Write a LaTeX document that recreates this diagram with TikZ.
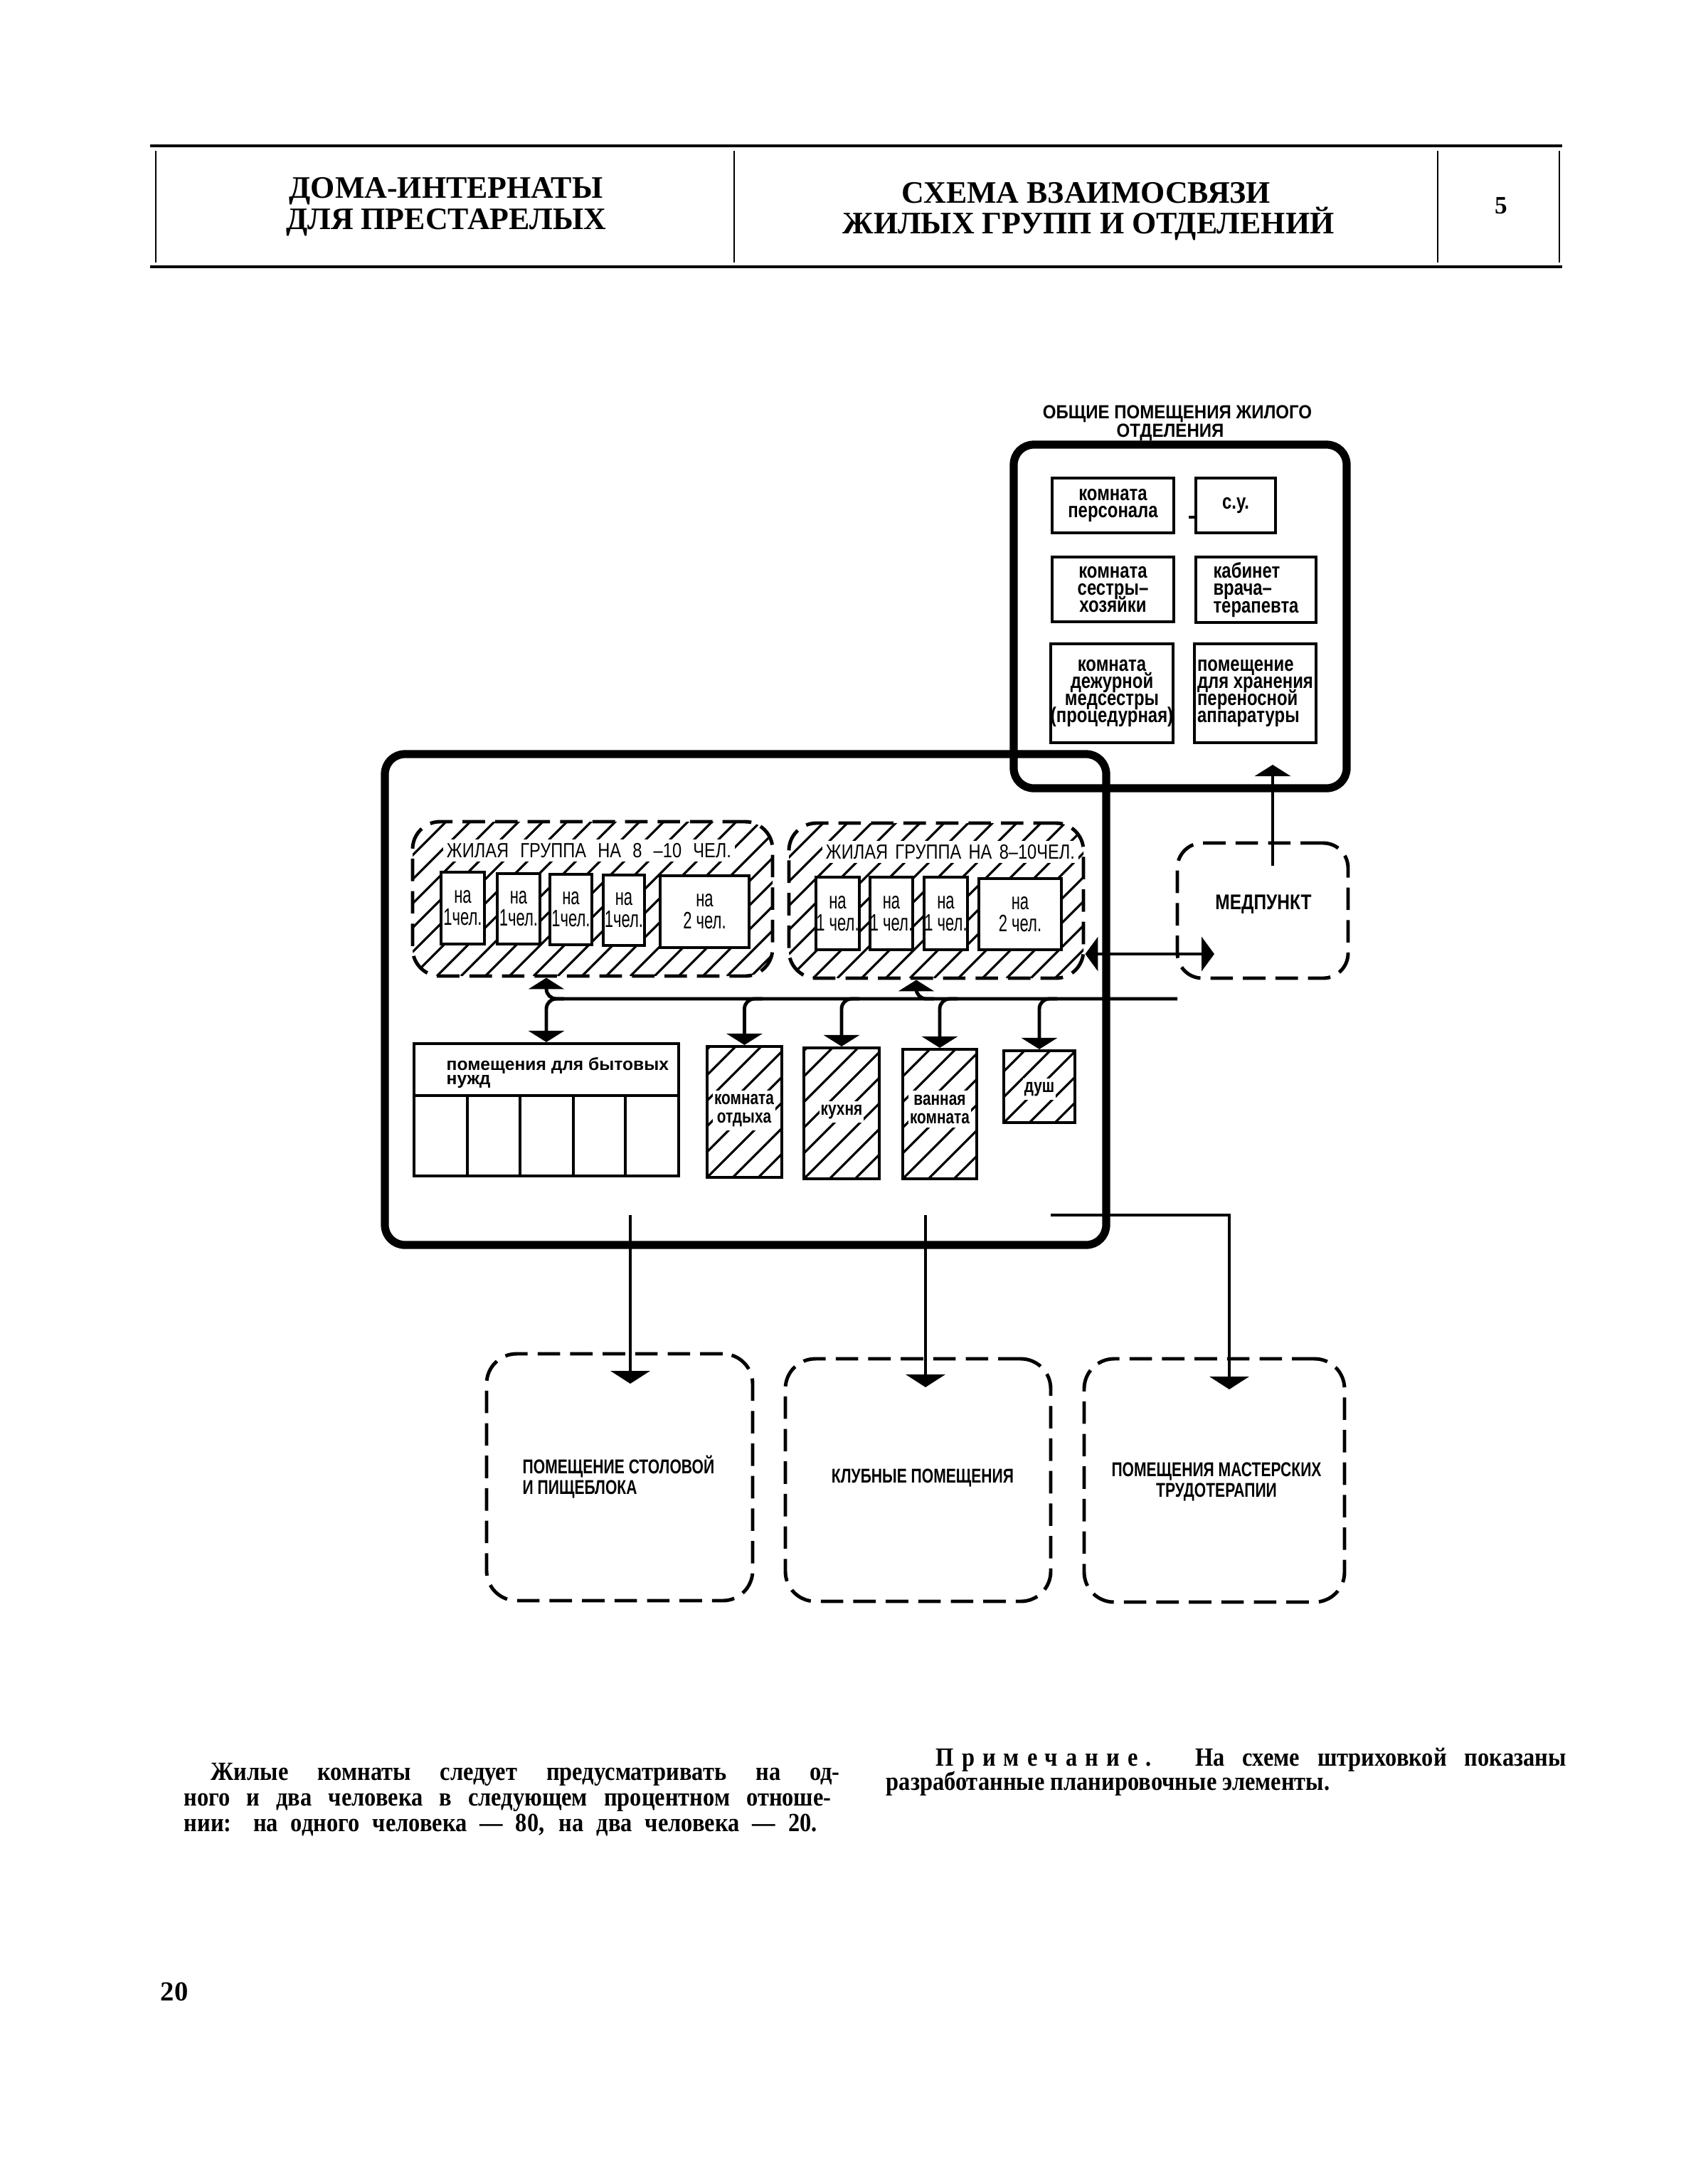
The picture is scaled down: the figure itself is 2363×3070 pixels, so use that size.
\documentclass[tikz,border=0pt]{standalone}
\usepackage{fontspec}
\setmainfont{Liberation Serif}
\setsansfont{Liberation Sans}
\usetikzlibrary{arrows.meta,fit,calc}
\tikzset{
  hdrtext/.style={inner sep=0, font={\fontsize{12.5}{14}\selectfont\bfseries}},
  heavybox/.style={draw, line width=3.2pt, rounded corners=8pt, inner sep=0},
  cellbox/.style={draw, line width=1.2pt, inner sep=0},
  roombox/.style={draw, line width=1pt, fill=white, inner sep=0},
  dashbox/.style={draw, line width=1.4pt, dash pattern=on 9pt off 4pt, inner sep=0},
  hatch/.style={path picture={\foreach \i in {-24,...,24}{\draw[line width=0.9pt, solid] ([xshift=\i*#1]path picture bounding box.south west) -- ++(70mm,70mm);}}},
  conn/.style={line width=1.4pt},
  tipA/.tip={Triangle[width=5mm,length=1.6mm]},
  tipB/.tip={Triangle[width=4.8mm,length=1.8mm]},
  tipC/.tip={Triangle[width=5.5mm,length=1.8mm]},
  arr/.style={conn, -tipA},
  arrB/.style={conn, -tipC},
  ttl/.style={inner sep=0, font={\sffamily\bfseries\fontsize{7.6}{8}\selectfont\addfontfeature{FakeStretch=0.9}}},
  obtext/.style={inner sep=0, align=center, font={\sffamily\bfseries\fontsize{8.5}{6.9}\selectfont\addfontfeature{FakeStretch=0.8}\lineskiplimit=-20pt\relax}},
  rtext/.style={inner sep=0, align=center, font={\sffamily\fontsize{9.5}{8.8}\selectfont\addfontfeature{FakeStretch=0.66}\lineskiplimit=-20pt\relax}},
  gtitle/.style={inner sep=1.5pt, fill=white, font={\sffamily\fontsize{8.2}{9}\selectfont\addfontfeature{FakeStretch=0.82}}},
  ptext/.style={inner sep=0, font={\sffamily\bfseries\fontsize{7}{5.7}\selectfont\lineskiplimit=-20pt\relax}},
  htext/.style={inner xsep=0.5pt, inner ysep=1.5pt, fill=white, align=center, font={\sffamily\bfseries\fontsize{7.6}{7.4}\selectfont\addfontfeature{FakeStretch=0.78}}},
  mtext/.style={inner sep=0, font={\sffamily\bfseries\fontsize{8.5}{9}\selectfont\addfontfeature{FakeStretch=0.82}}},
  btext/.style={inner sep=0, font={\sffamily\bfseries\fontsize{8}{8.5}\selectfont\addfontfeature{FakeStretch=0.75}}},
  para/.style={inner sep=0, anchor=base west, font={\fontsize{10.5}{12}\selectfont\bfseries\addfontfeature{FakeStretch=0.88}}},
}
\begin{document}
\begin{tikzpicture}[x=0.1mm,y=-0.1mm]
\useasboundingbox (0,0) rectangle (2363,3070);
\fill[white] (0,0) rectangle (2363,3070);

% ---------- header ----------
\draw[line width=1.4pt] (211,205) -- (2196,205);
\draw[line width=1.4pt] (211,375) -- (2196,375);
\foreach \xx in {219,1032,2021,2192} \draw[line width=0.8pt] (\xx,212) -- (\xx,369);
\node[hdrtext, anchor=base] (hL1) at (627,278) {ДОМА-ИНТЕРНАТЫ};
\node[hdrtext, anchor=base] (hL2) at (627,322) {ДЛЯ ПРЕСТАРЕЛЫХ};
\node[hdrtext, anchor=base] (hM1) at (1527,285) {СХЕМА ВЗАИМОСВЯЗИ};
\node[hdrtext, anchor=base] (hM2) at (1530,328) {ЖИЛЫХ ГРУПП И ОТДЕЛЕНИЙ};
\node[hdrtext, font={\fontsize{10}{12}\selectfont\bfseries}] (hN) at (2110,289) {5};

% ---------- common rooms block ----------
\node[ttl, anchor=base] (ot1) at (1655,588) {ОБЩИЕ ПОМЕЩЕНИЯ ЖИЛОГО};
\node[ttl, anchor=base] (ot2) at (1645,614) {ОТДЕЛЕНИЯ};
\node[heavybox, fit={(1425,625)(1893,1108)}] (ob) {};
\node[heavybox, fit={(541,1060)(1555,1750)}] (mb) {};

\node[cellbox, fit={(1479,672)(1650,749)}] (o1) {};
\node[obtext] (o1t) at (o1.center) {комната\\персонала};
\node[cellbox, fit={(1681,672)(1793,749)}] (o2) {};
\node[obtext] (o2t) at (o2.center) {с.у.};
\node[cellbox, fit={(1479,783)(1650,874)}] (o3) {};
\node[obtext] (o3t) at (o3.center) {комната\\сестры–\\хозяйки};
\node[cellbox, fit={(1681,783)(1850,875)}] (o4) {};
\node[obtext, align=left] (o4t) at (o4.center) {кабинет\\врача–\\терапевта};
\node[cellbox, fit={(1477,905)(1649,1044)}] (o5) {};
\node[obtext] (o5t) at (o5.center) {комната\\дежурной\\медсестры\\(процедурная)};
\node[cellbox, fit={(1679,905)(1850,1044)}] (o6) {};
\node[obtext, align=left] (o6t) at (o6.center) {помещение\\для хранения\\переносной\\аппаратуры};
\draw[line width=1.2pt] ([yshift=-1.65mm]o2.west) -- ++(-0.8mm,0);

% ---------- living groups ----------
\node[dashbox, hatch=3.4mm, rounded corners=11pt, fit={(580,1155)(1086,1372)}] (g1) {};
\node[gtitle, anchor=base west] (g1t) at (622,1205) {\makebox[40mm][s]{ЖИЛАЯ ГРУППА НА 8 –10 ЧЕЛ.}};
\node[roombox, fit={(620,1226)(681,1327)}] (r11) {};
\node[roombox, fit={(699,1228)(759,1327)}] (r12) {};
\node[roombox, fit={(773,1229)(832,1328)}] (r13) {};
\node[roombox, fit={(848,1230)(906,1329)}] (r14) {};
\node[roombox, fit={(928,1231)(1053,1332)}] (r15) {};
\node[rtext] (r11t) at (r11.center) {на\\1чел.};
\node[rtext] (r12t) at (r12.center) {на\\1чел.};
\node[rtext] (r13t) at (r13.center) {на\\1чел.};
\node[rtext] (r14t) at (r14.center) {на\\1чел.};
\node[rtext] (r15t) at (r15.center) {на\\2 чел.};

\node[dashbox, hatch=3.4mm, rounded corners=11pt, fit={(1109,1157)(1523,1375)}] (g2) {};
\node[gtitle, anchor=base west] (g2t) at (1155,1207) {\makebox[35mm][s]{ЖИЛАЯ ГРУППА НА 8–10ЧЕЛ.}};
\node[roombox, fit={(1147,1233)(1208,1335)}] (r21) {};
\node[roombox, fit={(1223,1233)(1283,1335)}] (r22) {};
\node[roombox, fit={(1299,1233)(1360,1335)}] (r23) {};
\node[roombox, fit={(1376,1235)(1492,1335)}] (r24) {};
\node[rtext] (r21t) at (r21.center) {на\\1 чел.};
\node[rtext] (r22t) at (r22.center) {на\\1 чел.};
\node[rtext] (r23t) at (r23.center) {на\\1 чел.};
\node[rtext] (r24t) at (r24.center) {на\\2 чел.};

% ---------- service rooms ----------
\node[cellbox, fit={(582,1467)(954,1653)}] (pom) {};
\draw[line width=1.2pt] (582,1540) -- (954,1540);
\foreach \xx in {657,731,806,879} \draw[line width=1.2pt] (\xx,1540) -- (\xx,1653);
\node[ptext, anchor=west, align=left] (pomt) at (627,1508) {помещения для бытовых\\нужд};

\node[cellbox, hatch=3.6mm, fit={(994,1471)(1099,1655)}] (ko) {};
\node[htext] (kot) at (1046,1561) {комната\\отдыха};
\node[cellbox, hatch=3.6mm, fit={(1130,1473)(1236,1657)}] (ku) {};
\node[htext] (kut) at (1183,1563) {кухня};
\node[cellbox, hatch=3.6mm, fit={(1269,1475)(1373,1657)}] (va) {};
\node[htext] (vat) at (1321,1559) {ванная\\комната};
\node[cellbox, hatch=3.6mm, fit={(1411,1477)(1511,1578)}] (du) {};
\node[htext] (dut) at (1461,1531) {душ};

% ---------- med point ----------
\node[dashbox, rounded corners=10pt, fit={(1655,1185)(1895,1375)}] (mp) {};
\node[mtext] (mpt) at (1776,1271) {МЕДПУНКТ};

% ---------- lower blocks ----------
\node[dashbox, rounded corners=12pt, fit={(684,1903)(1058,2250)}] (b1) {};
\node[dashbox, rounded corners=12pt, fit={(1104,1910)(1477,2251)}] (b2) {};
\node[dashbox, rounded corners=12pt, fit={(1524,1910)(1890,2252)}] (b3) {};
\node[btext, anchor=west, align=left] (b1t) at (734,2076) {ПОМЕЩЕНИЕ СТОЛОВОЙ\\И ПИЩЕБЛОКА};
\node[btext] (b2t) at (1297,2077) {КЛУБНЫЕ ПОМЕЩЕНИЯ};
\node[btext, align=center] (b3t) at (1710,2083) {ПОМЕЩЕНИЯ МАСТЕРСКИХ\\ТРУДОТЕРАПИИ};

% ---------- connectors ----------
\coordinate (busE) at (1655,1404);
\coordinate (g1a) at (pom.north |- g1.south);
\draw[conn, tipA-, rounded corners=4pt] (g1a) |- (busE);
\draw[arr, rounded corners=4pt] ($(pom.north |- busE)+(25,0)$) -| (pom.north);
\foreach \n in {ko,ku,va,du} \draw[arr, rounded corners=4pt] ($(\n.north |- busE)+(25,0)$) -| (\n.north);
\coordinate (g2a) at ([xshift=-2.8mm]g2.south);
\draw[arr, rounded corners=4pt] ($(g2a |- busE)+(25,0)$) -| (g2a);

\coordinate (mpA) at (1707,1341);
\draw[conn, tipB-tipB] (g2.east |- mpA) -- (mpA);
\coordinate (mpB) at (1789,1217);
\coordinate (obA) at (1789,1075);
\draw[arr] (mpB) -- (obA);

\coordinate (d1) at (886,1708);  \coordinate (e1) at (886,1945);
\coordinate (d2) at (1301,1708); \coordinate (e2) at (1301,1950);
\coordinate (d3) at (1477,1708); \coordinate (e3) at (1728,1953);
\draw[arrB] (d1) -- (e1);
\draw[arrB] (d2) -- (e2);
\draw[arrB] (d3) -| (e3);

% ---------- text below ----------
\node[para] (p1) at (296,2502) {\makebox[88.4mm][s]{Жилые комнаты следует предусматривать на од-}};
\node[para] (p2) at (258,2538) {\makebox[91mm][s]{ного и два человека в следующем процентном отноше-}};
\node[para] (p3) at (258,2574) {\makebox[89mm][s]{нии: на одного человека — 80, на два человека — 20.}};
\node[para] (q1) at (1315,2482) {\makebox[88.6mm][s]{{\addfontfeature{LetterSpace=30}Примечание.} На схеме штриховкой показаны}};
\node[para] (q2) at (1245,2516) {разработанные планировочные элементы.};

\node[inner sep=0, font={\fontsize{11}{13}\selectfont\bfseries}] (pg) at (245,2800) {20};
\end{tikzpicture}
\end{document}
